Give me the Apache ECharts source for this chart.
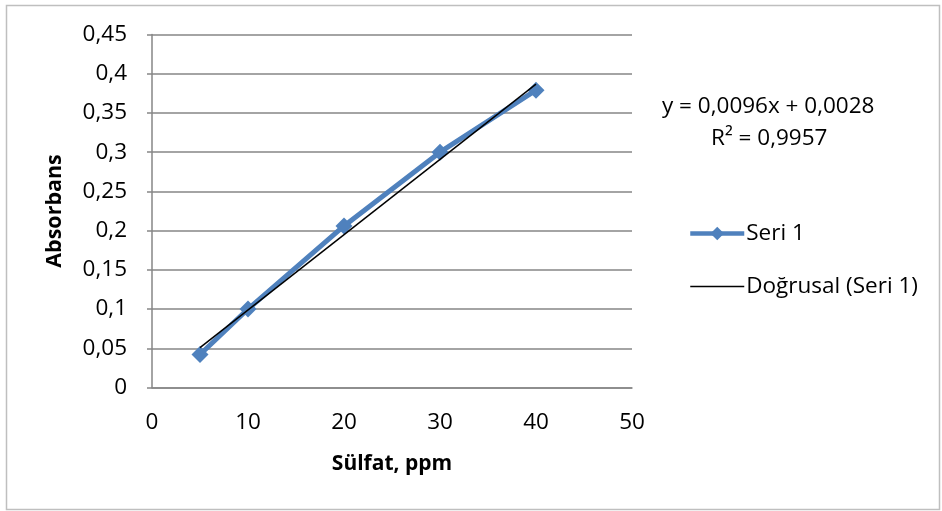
<!DOCTYPE html>
<html>
<head>
<meta charset="utf-8">
<script src="https://cdn.jsdelivr.net/npm/echarts@6/dist/echarts.min.js"></script>
<style>html,body{margin:0;padding:0;background:#fff}#c{width:942px;height:511px}</style>
</head>
<body>
<div id="c"></div>
<script>
const xValues = [5, 10, 20, 30, 40];
const yValues = [0.042, 0.1, 0.206, 0.3, 0.379];
const trendX = [5, 40];
const trendY = [0.0508, 0.3868];
const seriesName = 'Seri 1';
const trendName = 'Doğrusal (Seri 1)';
const equationLines = ['y = 0,0096x + 0,0028', 'R² = 0,9957'];
const xTitle = 'Sülfat, ppm';
const yTitle = 'Absorbans';

const FONT = '"Open Sans", "Noto Sans", sans-serif';
const fmt = v => String(+v.toFixed(2)).replace('.', ',');

const chart = echarts.init(document.getElementById('c'), null, {renderer: 'canvas'});
chart.setOption({
  animation: false,
  backgroundColor: '#fff',
  grid: {left: 152, top: 34.5, right: 310, bottom: 123.5, containLabel: false},
  xAxis: {
    type: 'value', min: 0, max: 50, interval: 10,
    name: xTitle, nameLocation: 'middle', nameGap: 66,
    nameTextStyle: {fontFamily: FONT, fontSize: 21, fontWeight: 'bold', color: '#000'},
    axisLine: {show: true, lineStyle: {color: '#868686', width: 1.5}},
    axisTick: {show: false},
    splitLine: {show: false},
    axisLabel: {fontFamily: FONT, fontSize: 22.5, color: '#000', margin: 24}
  },
  yAxis: {
    type: 'value', min: 0, max: 0.45, interval: 0.05,
    name: yTitle, nameLocation: 'middle', nameGap: 86, nameRotate: 90,
    nameTextStyle: {fontFamily: FONT, fontSize: 21.5, fontWeight: 'bold', color: '#000'},
    axisLine: {show: true, lineStyle: {color: '#868686', width: 1.5}},
    axisTick: {show: true, length: 5, lineStyle: {color: '#868686', width: 1.5}},
    splitLine: {show: true, lineStyle: {color: '#868686', width: 1.5}},
    axisLabel: {fontFamily: FONT, fontSize: 22.5, color: '#000', margin: 25, formatter: fmt}
  },
  legend: {
    orient: 'vertical', left: 688, top: 222, padding: 0, itemWidth: 54, itemHeight: 17, itemGap: 30,
    textStyle: {fontFamily: FONT, fontSize: 22.5, color: '#000', padding: [0, 0, 0, -3]},
    data: [
      {name: seriesName, lineStyle: {width: 4.5, color: '#4F81BD'}},
      {name: trendName, itemStyle: {opacity: 0}, lineStyle: {width: 1.5, color: '#000'}}
    ]
  },
  series: [
    {
      name: seriesName, type: 'line',
      data: xValues.map((x, i) => [x, yValues[i]]),
      symbol: 'diamond', symbolSize: 17,
      lineStyle: {color: '#4F81BD', width: 5},
      itemStyle: {color: '#4F81BD'},
      z: 2
    },
    {
      name: trendName, type: 'line',
      data: trendX.map((x, i) => [x, trendY[i]]),
      symbol: 'none',
      lineStyle: {color: '#000', width: 1.5},
      itemStyle: {color: '#000'},
      z: 3
    }
  ],
  graphic: [
    {type: 'rect', shape: {x: 6.5, y: 5.5, width: 933, height: 504}, style: {fill: null, stroke: '#BFBFBF', lineWidth: 1.5}, silent: true, z: -10},
    {type: 'text', left: 662, top: 95, style: {text: equationLines[0], font: '22.5px ' + FONT, fill: '#000'}},
    {type: 'text', left: 711, top: 127, style: {text: equationLines[1], font: '22.5px ' + FONT, fill: '#000'}}
  ]
});
</script>
</body>
</html>
